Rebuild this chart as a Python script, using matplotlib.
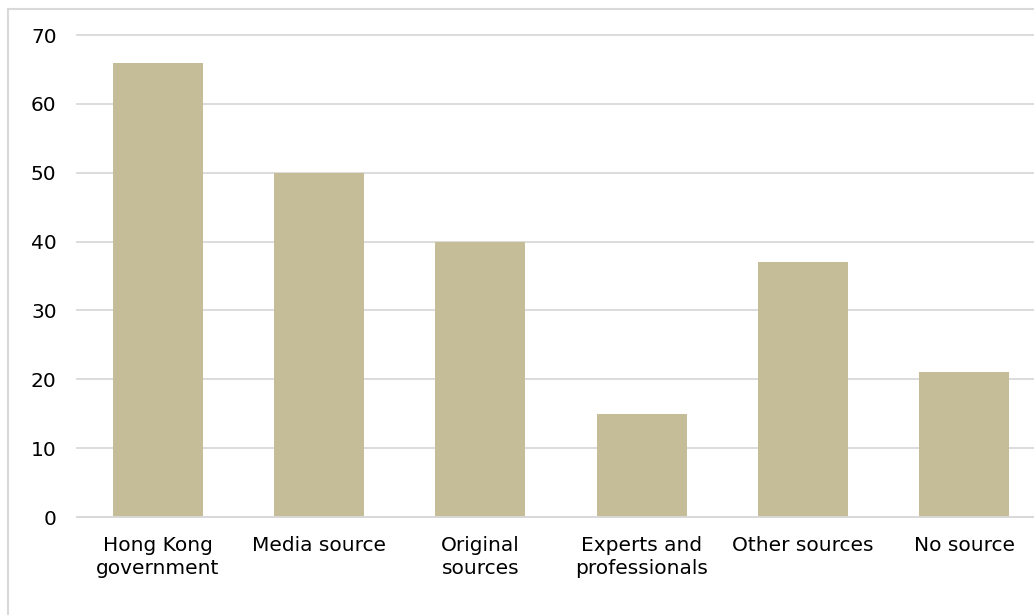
import matplotlib.pyplot as plt
from matplotlib.patches import Rectangle

categories = ['Hong Kong\ngovernment', 'Media source', 'Original\nsources',
              'Experts and\nprofessionals', 'Other sources', 'No source']
counts = [66, 50, 40, 15, 37, 21]
y_ticks = [0, 10, 20, 30, 40, 50, 60, 70]

bar_color = '#C4BD97'
grid_color = '#D9D9D9'

plt.rcParams['font.family'] = 'sans-serif'
plt.rcParams['font.sans-serif'] = ['DejaVu Sans']
fig = plt.figure(figsize=(10.34, 6.15), dpi=100)
# axes runs a bit past the right edge, as in the cropped original
ax = fig.add_axes([77.4 / 1034, 0.1593, 967.2 / 1034, 0.7837])

x = range(len(categories))
ax.bar(x, counts, width=0.558, color=bar_color, zorder=2)

ax.set_xlim(-0.5, len(categories) - 0.5)
ax.set_ylim(0, 70)
ax.set_yticks(y_ticks)
ax.set_xticks(list(x))
ax.set_xticklabels(categories, fontsize=14.5, linespacing=1.25)
ax.tick_params(axis='y', labelsize=14.5, length=0, pad=15)
ax.tick_params(axis='x', length=0, pad=14)
ax.yaxis.grid(True, color=grid_color, linewidth=1.3, zorder=0)
for gl in ax.yaxis.get_gridlines():
    gl.set_clip_on(False)
ax.set_axisbelow(True)
for side in ['top', 'right', 'left']:
    ax.spines[side].set_visible(False)
ax.spines['bottom'].set_color(grid_color)
ax.spines['bottom'].set_linewidth(1.3)

# outer chart border (only top and left show, the rest is cropped)
fig.patches.append(Rectangle((8 / 1034, -0.05), 1.1, 1 - 8.5 / 615 + 0.05,
                             transform=fig.transFigure, fill=False,
                             edgecolor=grid_color, linewidth=1.5))

fig.savefig('out.png', dpi=100)
